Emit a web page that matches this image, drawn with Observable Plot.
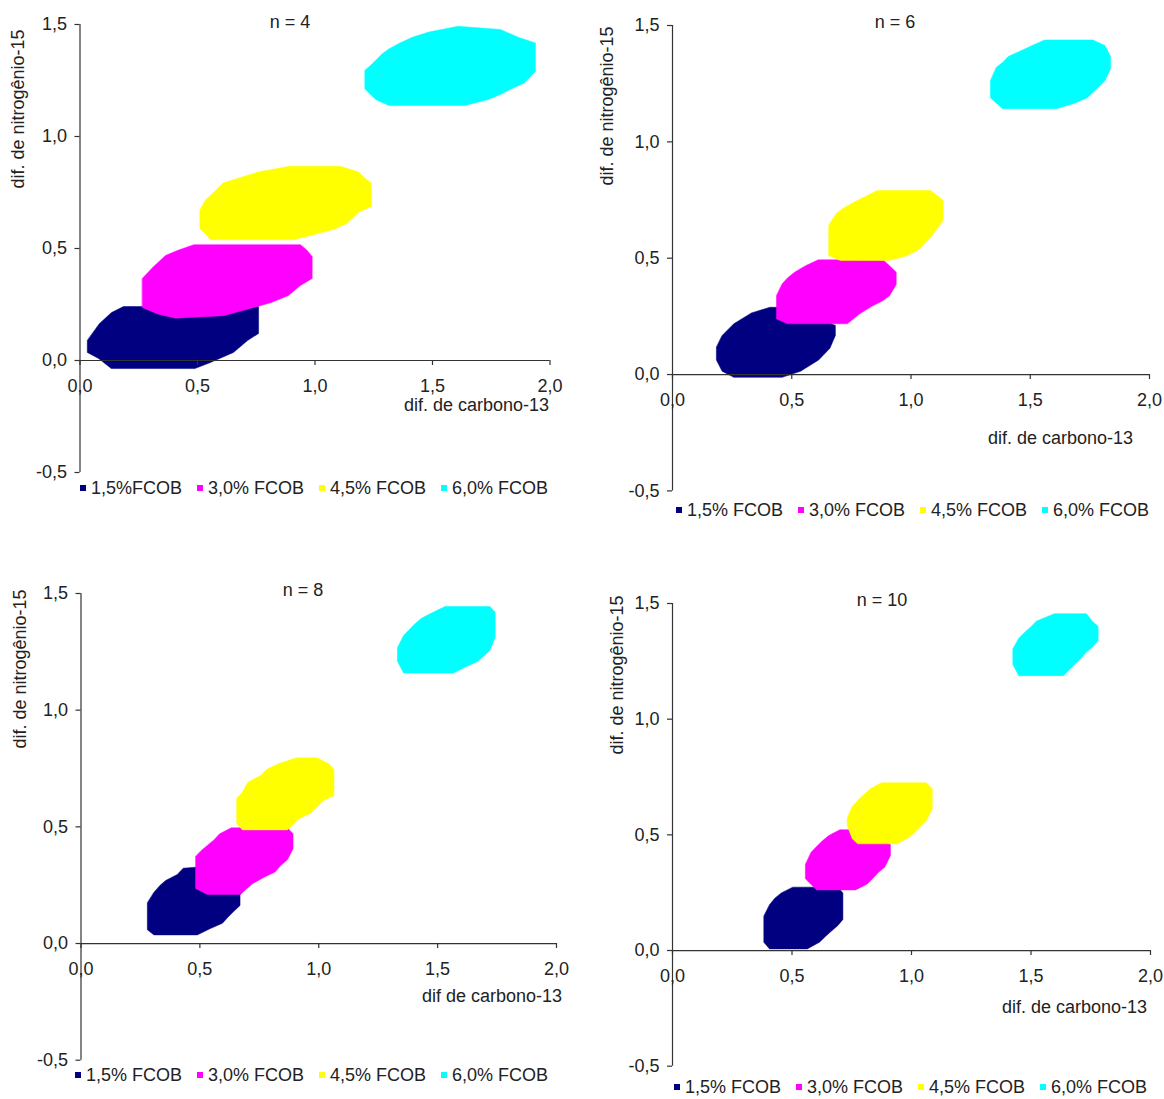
<!DOCTYPE html>
<html>
<head>
<meta charset="utf-8">
<script src="https://cdn.jsdelivr.net/npm/d3@7"></script>
<script src="https://cdn.jsdelivr.net/npm/@observablehq/plot@0.6"></script>
<style>
  body { margin: 0; background: #fff; font-family: "Liberation Sans", Arial, sans-serif; color: #222; }
  #root { position: relative; width: 1164px; height: 1099px; overflow: hidden; background: #fff; }
  .t { position: absolute; font-size: 18px; line-height: 1; white-space: nowrap; color: #222; }
  .c { transform: translate(-50%, -50%); }
  .r { transform: translate(-100%, -50%); }
  .rot { transform: translate(-50%, -50%) rotate(-90deg); }
  .leg { position: absolute; display: flex; align-items: center; font-size: 18px; line-height: 1; white-space: nowrap; transform: translateY(-50%); color: #222; }
  .leg .item { display: flex; align-items: center; margin-right: 15px; }
  .leg .sw { width: 6px; height: 6px; margin-right: 5px; }
</style>
</head>
<body>
<div id="root"></div>
<script>
// ---- data ----
const series = ["1,5% FCOB", "3,0% FCOB", "4,5% FCOB", "6,0% FCOB"];
const colors = ["#000080", "#ff00ff", "#ffff00", "#00ffff"];
const legendN4 = ["1,5%FCOB", "3,0% FCOB", "4,5% FCOB", "6,0% FCOB"];
const legendOther = ["1,5% FCOB", "3,0% FCOB", "4,5% FCOB", "6,0% FCOB"];
const panelTitles = ["n = 4", "n = 6", "n = 8", "n = 10"];
const xTitles = ["dif. de carbono-13", "dif. de carbono-13", "dif de carbono-13", "dif. de carbono-13"];
const yTitle = "dif. de nitrogênio-15";
const xTicks = [0, 0.5, 1, 1.5, 2];
const xTickLabels = ["0,0", "0,5", "1,0", "1,5", "2,0"];
const yTicks = [-0.5, 0, 0.5, 1, 1.5];
const yTickLabels = ["-0,5", "0,0", "0,5", "1,0", "1,5"];

// outlines of each confidence region [dif. carbono-13, dif. nitrogênio-15]
const n4_15 = [[0.031,0.089],[0.031,0.036],[0.079,0.009],[0.133,-0.036],[0.489,-0.036],[0.555,-0.009],[0.653,0.036],[0.713,0.089],[0.760,0.121],[0.760,0.241],[0.185,0.241],[0.134,0.214],[0.083,0.165]];
const n4_30 = [[0.265,0.366],[0.311,0.417],[0.364,0.469],[0.414,0.491],[0.484,0.517],[0.938,0.517],[0.964,0.494],[0.988,0.464],[0.988,0.366],[0.938,0.335],[0.887,0.290],[0.814,0.259],[0.740,0.237],[0.612,0.200],[0.406,0.189],[0.329,0.208],[0.265,0.237]];
const n4_45 = [[0.510,0.670],[0.510,0.588],[0.534,0.566],[0.555,0.539],[0.910,0.539],[1.009,0.566],[1.087,0.588],[1.137,0.613],[1.186,0.662],[1.239,0.688],[1.239,0.792],[1.208,0.818],[1.186,0.841],[1.109,0.867],[0.889,0.867],[0.758,0.841],[0.686,0.818],[0.609,0.792],[0.563,0.744],[0.534,0.717]];
const n4_60 = [[1.212,1.295],[1.212,1.213],[1.236,1.188],[1.260,1.164],[1.314,1.138],[1.636,1.138],[1.735,1.164],[1.789,1.188],[1.836,1.213],[1.889,1.238],[1.938,1.290],[1.938,1.417],[1.865,1.443],[1.789,1.478],[1.609,1.492],[1.484,1.466],[1.414,1.443],[1.361,1.417],[1.314,1.391],[1.286,1.369],[1.260,1.342],[1.236,1.317]];

const n6_15 = [[0.184,0.117],[0.184,0.063],[0.208,0.014],[0.257,-0.012],[0.460,-0.012],[0.537,0.014],[0.613,0.063],[0.660,0.113],[0.683,0.168],[0.683,0.211],[0.587,0.254],[0.495,0.289],[0.408,0.289],[0.331,0.265],[0.257,0.218],[0.208,0.168]];
const n6_30 = [[0.436,0.339],[0.436,0.239],[0.483,0.218],[0.733,0.218],[0.785,0.261],[0.834,0.292],[0.883,0.318],[0.910,0.339],[0.938,0.387],[0.938,0.440],[0.910,0.468],[0.886,0.490],[0.688,0.493],[0.611,0.493],[0.558,0.468],[0.512,0.440],[0.483,0.416],[0.460,0.390]];
const n6_45 = [[0.655,0.640],[0.655,0.511],[0.704,0.490],[0.907,0.490],[0.984,0.511],[1.036,0.540],[1.082,0.590],[1.135,0.662],[1.135,0.748],[1.110,0.769],[1.082,0.791],[0.858,0.791],[0.809,0.765],[0.760,0.740],[0.712,0.712],[0.686,0.691]];
const n6_60 = [[1.333,1.263],[1.333,1.189],[1.358,1.166],[1.385,1.142],[1.610,1.142],[1.686,1.166],[1.739,1.189],[1.763,1.213],[1.788,1.238],[1.813,1.263],[1.837,1.314],[1.837,1.367],[1.813,1.414],[1.763,1.438],[1.560,1.438],[1.508,1.414],[1.456,1.389],[1.408,1.367],[1.385,1.342],[1.358,1.321]];

const n8_15 = [[0.279,0.174],[0.279,0.059],[0.307,0.037],[0.489,0.037],[0.542,0.063],[0.595,0.087],[0.618,0.113],[0.643,0.138],[0.669,0.163],[0.669,0.209],[0.693,0.236],[0.587,0.287],[0.482,0.327],[0.430,0.323],[0.405,0.296],[0.356,0.270],[0.332,0.249],[0.307,0.220]];
const n8_30 = [[0.482,0.373],[0.482,0.236],[0.531,0.210],[0.669,0.210],[0.721,0.256],[0.770,0.284],[0.816,0.306],[0.840,0.334],[0.868,0.359],[0.892,0.406],[0.892,0.470],[0.868,0.496],[0.632,0.496],[0.583,0.470],[0.559,0.444],[0.531,0.420],[0.506,0.399]];
const n8_45 = [[0.655,0.620],[0.655,0.513],[0.679,0.487],[0.868,0.487],[0.915,0.534],[0.966,0.559],[0.992,0.584],[1.020,0.613],[1.064,0.634],[1.064,0.746],[1.043,0.770],[0.992,0.796],[0.907,0.796],[0.830,0.770],[0.780,0.746],[0.756,0.720],[0.702,0.691],[0.679,0.649]];
const n8_60 = [[1.331,1.267],[1.331,1.210],[1.357,1.159],[1.567,1.159],[1.615,1.184],[1.668,1.209],[1.692,1.230],[1.720,1.256],[1.742,1.313],[1.742,1.420],[1.720,1.444],[1.531,1.444],[1.481,1.420],[1.432,1.394],[1.405,1.370],[1.380,1.345],[1.357,1.320]];

const n10_15 = [[0.382,0.148],[0.382,0.036],[0.406,0.007],[0.564,0.007],[0.615,0.036],[0.640,0.061],[0.664,0.083],[0.692,0.108],[0.713,0.134],[0.713,0.249],[0.692,0.274],[0.503,0.274],[0.455,0.249],[0.428,0.226],[0.406,0.198]];
const n10_30 = [[0.556,0.372],[0.556,0.310],[0.603,0.262],[0.766,0.262],[0.815,0.288],[0.840,0.314],[0.863,0.339],[0.888,0.360],[0.912,0.411],[0.912,0.458],[0.837,0.506],[0.749,0.522],[0.700,0.522],[0.654,0.497],[0.626,0.473],[0.603,0.450],[0.580,0.425]];
const n10_45 = [[0.731,0.572],[0.731,0.540],[0.752,0.483],[0.775,0.461],[0.940,0.461],[0.986,0.486],[1.014,0.511],[1.038,0.537],[1.062,0.562],[1.087,0.613],[1.087,0.699],[1.062,0.725],[0.874,0.725],[0.828,0.699],[0.800,0.673],[0.775,0.649],[0.752,0.623]];
const n10_60 = [[1.424,1.303],[1.424,1.236],[1.449,1.188],[1.635,1.188],[1.682,1.236],[1.707,1.261],[1.732,1.290],[1.756,1.311],[1.781,1.340],[1.781,1.401],[1.756,1.424],[1.732,1.456],[1.598,1.456],[1.523,1.424],[1.501,1.401],[1.474,1.376],[1.449,1.350]];

// ---- layout ----
const panels = [
  {shapes:[n4_15,n4_30,n4_45,n4_60], legend: legendN4, left:0, top:0, w:582, h:549, mL:79.5, mR:32.5, mT:24, mB:77,
   titleX:290, titleY:22, xtX:549, xtY:405, ytX:18, ytY:109, legX:80, legY:488},
  {shapes:[n6_15,n6_30,n6_45,n6_60], legend: legendOther, left:582, top:0, w:582, h:549, mL:90, mR:15, mT:25, mB:58.6,
   titleX:895, titleY:22, xtX:1133, xtY:438, ytX:607, ytY:106, legX:676, legY:510},
  {shapes:[n8_15,n8_30,n8_45,n8_60], legend: legendOther, left:0, top:549, w:582, h:550, mL:80.5, mR:26, mT:44, mB:39.3,
   titleX:303, titleY:590, xtX:562, xtY:996, ytX:20, ytY:669, legX:75, legY:1075},
  {shapes:[n10_15,n10_30,n10_45,n10_60], legend: legendOther, left:582, top:549, w:582, h:550, mL:90, mR:14, mT:54, mB:33.3,
   titleX:882, titleY:600, xtX:1147, xtY:1007, ytX:617, ytY:675, legX:674, legY:1087}
];

const root = document.getElementById("root");
const axisColor = "#333";
const font = "'Liberation Sans', Arial, sans-serif";

panels.forEach((p, k) => {
  const rows = [];
  p.shapes.forEach((pts, si) => pts.forEach(([x, y]) => rows.push({s: series[si], x, y})));
  const chart = Plot.plot({
    width: p.w, height: p.h,
    marginLeft: p.mL, marginRight: p.mR, marginTop: p.mT, marginBottom: p.mB,
    x: {domain: [0, 2], axis: null},
    y: {domain: [-0.5, 1.5], axis: null},
    color: {domain: series, range: colors},
    style: {fontFamily: font, background: "transparent", overflow: "visible"},
    marks: [
      Plot.line(rows, {x: "x", y: "y", z: "s", fill: "s", stroke: "s", strokeWidth: 0.5, curve: "linear-closed"}),
      Plot.ruleY([0], {x1: 0, x2: 2, stroke: axisColor, strokeWidth: 1.2}),
      Plot.ruleX([0], {y1: -0.5, y2: 1.5, stroke: axisColor, strokeWidth: 1.2}),
      Plot.ruleX(xTicks, {x: d => d, y1: 0, y2: 0, insetBottom: -5, stroke: axisColor, strokeWidth: 1.2}),
      Plot.ruleY(yTicks, {y: d => d, x1: 0, x2: 0, insetLeft: -5, stroke: axisColor, strokeWidth: 1.2}),
      Plot.text(xTicks, {x: d => d, y: 0, dy: 26, text: (d, i) => xTickLabels[i], fontSize: 18, fill: "#222"}),
      Plot.text(yTicks, {x: 0, y: d => d, dx: -13, textAnchor: "end", text: (d, i) => yTickLabels[i], fontSize: 18, fill: "#222"})
    ]
  });
  chart.style.position = "absolute";
  chart.style.left = p.left + "px";
  chart.style.top = p.top + "px";
  root.appendChild(chart);

  const add = (cls, txt, x, y) => {
    const d = document.createElement("div");
    d.className = "t " + cls;
    d.textContent = txt;
    d.style.left = x + "px";
    d.style.top = y + "px";
    root.appendChild(d);
  };
  add("c", panelTitles[k], p.titleX, p.titleY);
  add("r", xTitles[k], p.xtX, p.xtY);
  add("rot", yTitle, p.ytX, p.ytY);

  const leg = document.createElement("div");
  leg.className = "leg";
  leg.style.left = p.legX + "px";
  leg.style.top = p.legY + "px";
  p.legend.forEach((lab, i) => {
    const it = document.createElement("div");
    it.className = "item";
    const sw = document.createElement("span");
    sw.className = "sw";
    sw.style.background = colors[i];
    const tx = document.createElement("span");
    tx.textContent = lab;
    it.appendChild(sw); it.appendChild(tx);
    leg.appendChild(it);
  });
  root.appendChild(leg);
});
</script>
</body>
</html>
